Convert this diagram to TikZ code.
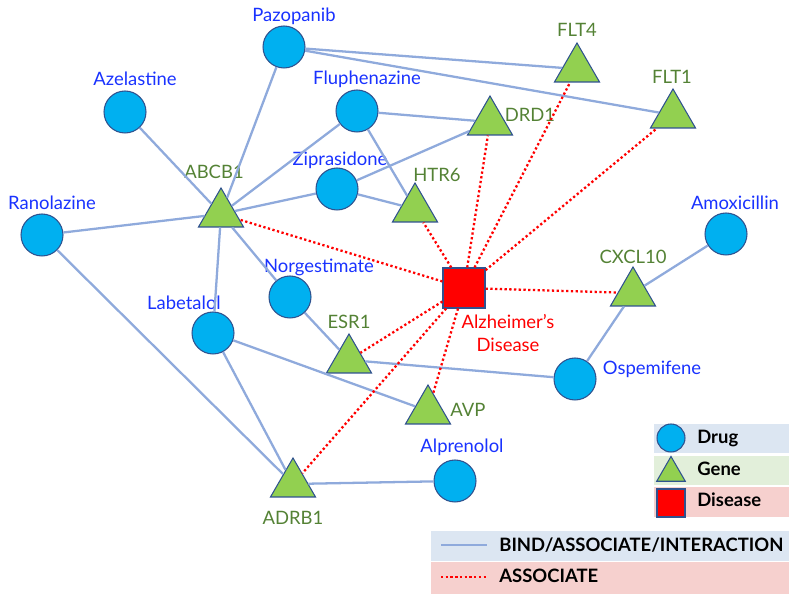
\documentclass[tikz,border=0pt]{standalone}
\usepackage{fontspec}
\setmainfont{Lato}
\usetikzlibrary{shapes.geometric}

\definecolor{drugfill}{HTML}{00B0F0}
\definecolor{genefill}{HTML}{92D050}
\definecolor{edgeline}{HTML}{2F528F}
\definecolor{drugtext}{RGB}{25,50,255}
\definecolor{genetext}{HTML}{548235}
\definecolor{bindline}{HTML}{8FAADC}
\definecolor{legblue}{RGB}{220,230,242}
\definecolor{leggreen}{RGB}{226,239,218}
\definecolor{legpink}{RGB}{246,208,206}

\tikzset{
  drug/.style={circle, draw=edgeline, fill=drugfill, line width=0.6pt, inner sep=0pt, minimum size=0.84cm},
  gene/.style={regular polygon, regular polygon sides=3, draw=edgeline, fill=genefill, line width=0.6pt, inner sep=0pt, minimum size=1.04cm},
  disease/.style={rectangle, draw=edgeline, fill=red, line width=0.6pt, inner sep=0pt, minimum width=0.84cm, minimum height=0.8cm},
  druglab/.style={text=drugtext, inner sep=0pt, font=\fontsize{10.5}{12}\selectfont},
  genelab/.style={text=genetext, inner sep=0pt, font=\fontsize{10.5}{12}\selectfont},
  dislab/.style={text=red, inner sep=0pt, align=center, font=\fontsize{10.5}{13}\selectfont},
  bind/.style={draw=bindline, line width=1.3pt},
  assoc/.style={draw=red, line width=1.3pt, dash pattern=on 1.3pt off 1.4pt},
  legtext/.style={anchor=west, inner sep=0pt, font=\fontsize{10.5}{12}\selectfont\bfseries}
}

\begin{document}
\begin{tikzpicture}[x=0.02cm, y=-0.02cm]
\useasboundingbox (0,0) rectangle (789,594);

% drugs
\node[drug] (pazopanib) at (284,47) {};
\node[drug] (azelastine) at (125,112) {};
\node[drug] (fluphenazine) at (357,111) {};
\node[drug] (ziprasidone) at (337,189) {};
\node[drug] (ranolazine) at (42,235) {};
\node[drug] (norgestimate) at (290,297) {};
\node[drug] (labetalol) at (213,333) {};
\node[drug] (amoxicillin) at (726,234) {};
\node[drug] (ospemifene) at (575,379) {};
\node[drug] (alprenolol) at (455,481) {};

% genes
\node[gene] (flt4) at (577,69) {};
\node[gene] (flt1) at (673,115) {};
\node[gene] (drd1) at (490,122) {};
\node[gene] (htr6) at (415,209) {};
\node[gene] (cxcl10) at (633,293) {};
\node[gene] (abcb1) at (221,214) {};
\node[gene] (esr1) at (349,360) {};
\node[gene] (avp) at (428,411) {};
\node[gene] (adrb1) at (293,484) {};

% disease
\node[disease] (alz) at (464,288) {};

% labels
\node[druglab] (pazopanibL) at (294,16) {Pazopanib};
\node[druglab] (azelastineL) at (135,79) {Azelastine};
\node[druglab] (fluphenazineL) at (367,79) {Fluphenazine};
\node[druglab] (ziprasidoneL) at (340,160) {Ziprasidone};
\node[druglab] (ranolazineL) at (52,203) {Ranolazine};
\node[druglab] (norgestimateL) at (319,267) {Norgestimate};
\node[druglab] (labetalolL) at (184,303) {Labetalol};
\node[druglab] (amoxicillinL) at (735,203) {Amoxicillin};
\node[druglab] (ospemifeneL) at (652,369) {Ospemifene};
\node[druglab] (alprenololL) at (462,447) {Alprenolol};
\node[genelab] (flt4L) at (577,30) {FLT4};
\node[genelab] (flt1L) at (672,77) {FLT1};
\node[genelab] (drd1L) at (530,115) {DRD1};
\node[genelab] (htr6L) at (437,175) {HTR6};
\node[genelab] (cxcl10L) at (633,257) {CXCL10};
\node[genelab] (abcb1L) at (214,172) {ABCB1};
\node[genelab] (esr1L) at (349,322) {ESR1};
\node[genelab] (avpL) at (468,410) {AVP};
\node[genelab] (adrb1L) at (293,518) {ADRB1};
\node[dislab] (alzL) at (508,333) {Alzheimer's\\Disease};

% bind / associate / interaction
\draw[bind] (pazopanib) -- (flt4);
\draw[bind] (pazopanib) -- (flt1);
\draw[bind] (pazopanib) -- (abcb1);
\draw[bind] (azelastine) -- (abcb1);
\draw[bind] (fluphenazine) -- (abcb1);
\draw[bind] (fluphenazine) -- (drd1);
\draw[bind] (fluphenazine) -- (htr6);
\draw[bind] (ziprasidone) -- (abcb1);
\draw[bind] (ziprasidone) -- (drd1);
\draw[bind] (ziprasidone) -- (htr6);
\draw[bind] (ranolazine) -- (abcb1);
\draw[bind] (ranolazine) -- (adrb1);
\draw[bind] (abcb1) -- (norgestimate);
\draw[bind] (abcb1) -- (labetalol);
\draw[bind] (norgestimate) -- (esr1);
\draw[bind] (labetalol) -- (avp);
\draw[bind] (labetalol) -- (adrb1);
\draw[bind] (esr1) -- (ospemifene);
\draw[bind] (ospemifene) -- (cxcl10);
\draw[bind] (cxcl10) -- (amoxicillin);
\draw[bind] (adrb1) -- (alprenolol);

% associate
\foreach \g in {abcb1,htr6,drd1,flt4,flt1,cxcl10,esr1,avp,adrb1}
  \draw[assoc] (alz) -- (\g);

% legend
\fill[legblue] (654,424) rectangle (789,453);
\fill[leggreen] (654,456) rectangle (789,485);
\fill[legpink] (654,487) rectangle (789,517);
\node[drug, minimum size=0.56cm] (legdrug) at (671,438) {};
\node[gene, minimum size=0.66cm] (leggene) at (671,473) {};
\node[disease, minimum width=0.56cm, minimum height=0.56cm] (legdis) at (671,503) {};
\node[legtext] (legdrugT) at (697,438) {Drug};
\node[legtext] (leggeneT) at (697,469) {Gene};
\node[legtext] (legdisT) at (697,500) {Disease};

\fill[legblue] (431,531) rectangle (789,561);
\fill[legpink] (431,562) rectangle (789,594);
\coordinate (bindA) at (441,545);
\coordinate (bindB) at (487,545);
\coordinate (assocA) at (441,577);
\coordinate (assocB) at (487,577);
\draw[bind] (bindA) -- (bindB);
\draw[assoc] (assocA) -- (assocB);
\node[legtext] (bindT) at (499,545) {BIND/ASSOCIATE/INTERACTION};
\node[legtext] (assocT) at (499,576) {ASSOCIATE};

\end{tikzpicture}
\end{document}
